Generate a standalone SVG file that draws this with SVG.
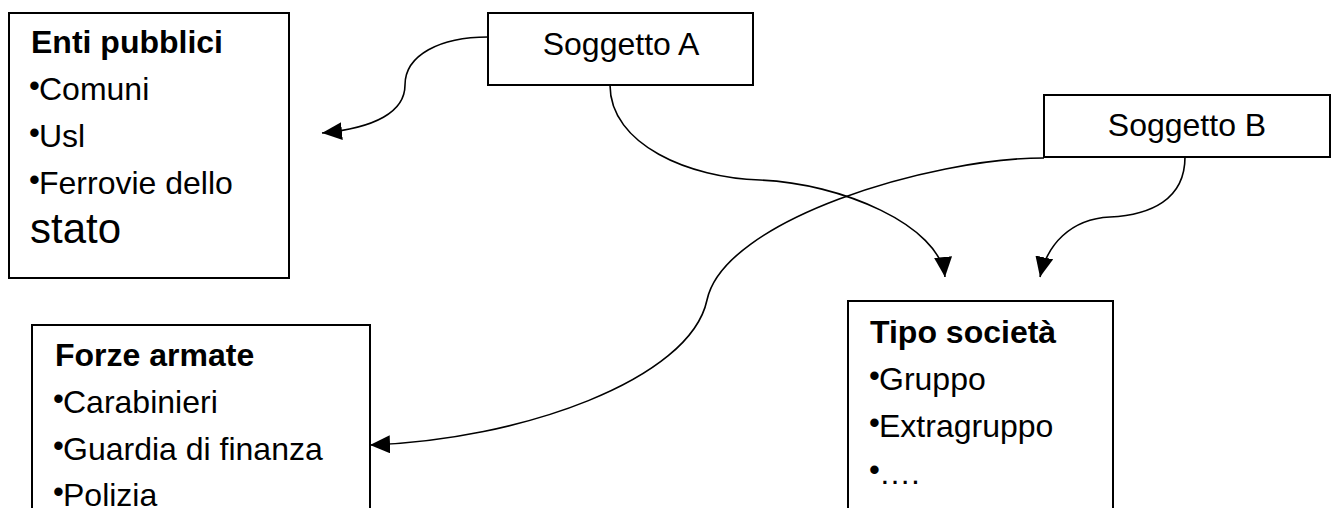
<svg xmlns="http://www.w3.org/2000/svg" width="1339" height="508" viewBox="0 0 1339 508">
<style>
.box{fill:#fff;stroke:#000;stroke-width:2}
.t{font-family:"Liberation Sans",Arial,sans-serif;font-size:32px;fill:#000}
.b{font-weight:bold}
.bul{font-family:"Liberation Sans",Arial,sans-serif;font-size:31px;fill:#000}
.big{font-size:42px}
.c{fill:none;stroke:#000;stroke-width:1.6;marker-end:url(#ah)}
</style>
<defs>
<marker id="ah" markerUnits="userSpaceOnUse" markerWidth="21" markerHeight="19" refX="20" refY="9" orient="auto">
<path d="M0,0 L20,9 L0,18 z" fill="#000"/>
</marker>
</defs>
<rect width="1339" height="508" fill="#fff"/>
<g id="connectors">
<path class="c" d="M488,37 C440,37 405,55 405,85 C405,112 375,128 322,133"/>
<path class="c" d="M610,85 C610,145 690,178 760,180 C840,183 940,225 945,277"/>
<path class="c" d="M1185,157 C1185,200 1150,215 1110,217 C1070,219 1047,245 1040,277"/>
<path class="c" d="M1044,158 C930,158 724,220 707,300 C690,380 520,440 370,445"/>
</g>
<g id="enti">
<rect class="box" x="9" y="13" width="280" height="265"/>
<text class="t b" x="31" y="53">Enti pubblici</text>
<text class="bul" x="29" y="96">•</text><text class="t" x="39" y="100">Comuni</text>
<text class="bul" x="29" y="143">•</text><text class="t" x="39" y="147">Usl</text>
<text class="bul" x="29" y="190">•</text><text class="t" x="39" y="194">Ferrovie dello</text>
<text class="t big" x="30" y="243">stato</text>
</g>
<g id="soggettoA">
<rect class="box" x="488" y="13" width="265" height="72"/>
<text class="t" x="621" y="55" text-anchor="middle">Soggetto A</text>
</g>
<g id="soggettoB">
<rect class="box" x="1044" y="95" width="286" height="62"/>
<text class="t" x="1187" y="136" text-anchor="middle">Soggetto B</text>
</g>
<g id="forze">
<rect class="box" x="32" y="325" width="338" height="200"/>
<text class="t b" x="55" y="366">Forze armate</text>
<text class="bul" x="53" y="409">•</text><text class="t" x="63" y="413">Carabinieri</text>
<text class="bul" x="53" y="456">•</text><text class="t" x="63" y="460">Guardia di finanza</text>
<text class="bul" x="53" y="502">•</text><text class="t" x="63" y="506">Polizia</text>
</g>
<g id="tipo">
<rect class="box" x="848" y="301" width="265" height="220"/>
<text class="t b" x="870" y="343">Tipo società</text>
<text class="bul" x="869" y="386">•</text><text class="t" x="879" y="390">Gruppo</text>
<text class="bul" x="869" y="433">•</text><text class="t" x="879" y="437">Extragruppo</text>
<text class="bul" x="869" y="480">•</text><text class="t" x="879" y="484">….</text>
</g>
</svg>
